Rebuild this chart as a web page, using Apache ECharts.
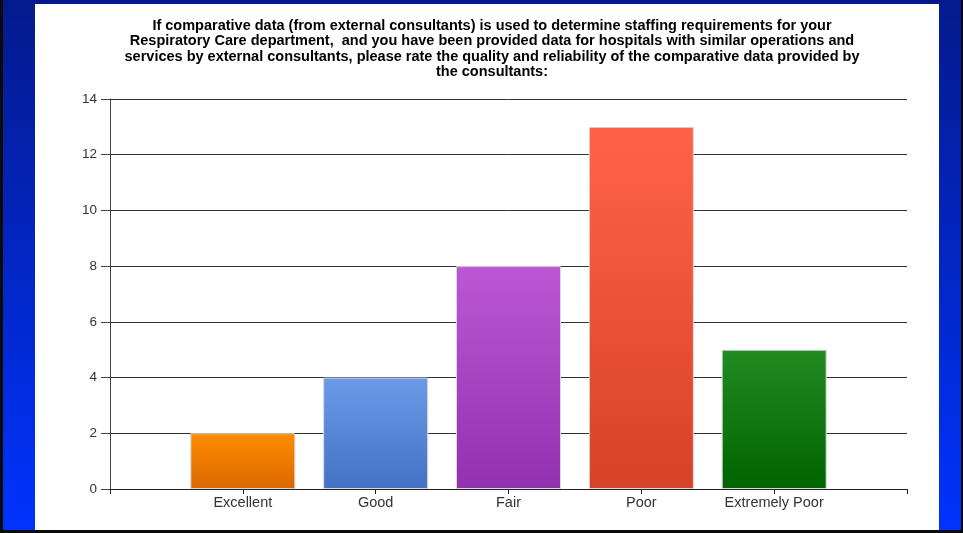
<!DOCTYPE html>
<html>
<head>
<meta charset="utf-8">
<script src="https://cdn.jsdelivr.net/npm/echarts@6/dist/echarts.min.js"></script>
<style>
  html, body { margin: 0; padding: 0; background: #000; }
  #chart { width: 963px; height: 533px; }
</style>
</head>
<body>
<div id="chart"></div>
<script>
// Survey question shown as the chart heading
const titleLines = [
  'If comparative data (from external consultants) is used to determine staffing requirements for your',
  'Respiratory Care department,  and you have been provided data for hospitals with similar operations and',
  'services by external consultants, please rate the quality and reliability of the comparative data provided by',
  'the consultants:'
];

// Rating categories and number of responses
const categories = ['Excellent', 'Good', 'Fair', 'Poor', 'Extremely Poor'];
const responses = [2, 4, 8, 13, 5];

// Y axis ticks
const yMin = 0;
const yMax = 14;
const yStep = 2;

// Top / bottom gradient colours for each bar
const barTopColors = ['#ff8c00', '#6a9ae8', '#bc56d4', '#ff6347', '#228b22'];
const barBottomColors = ['#d96800', '#4472c4', '#9431b0', '#d64226', '#006400'];

const FONT = '"Liberation Sans", Arial, sans-serif';

// Category axis padded with an empty slot at each end so the bars sit on inner ticks
const axisCats = [''].concat(categories, ['']);
const barData = [null].concat(responses.map(function (v, i) {
  return {
    value: v,
    itemStyle: {
      color: new echarts.graphic.LinearGradient(0, 0, 0, 1, [
        { offset: 0, color: barTopColors[i] },
        { offset: 1, color: barBottomColors[i] }
      ])
    }
  };
}), [null]);

const chart = echarts.init(document.getElementById('chart'), null, { renderer: 'canvas' });

chart.setOption({
  animation: false,
  backgroundColor: new echarts.graphic.LinearGradient(0, 0, 0, 1, [
    { offset: 0, color: '#041a8c' },
    { offset: 1, color: '#0033ff' }
  ]),
  graphic: [
    // white slide panel
    { type: 'rect', z: -10, shape: { x: 35, y: 4, width: 904, height: 526 }, style: { fill: '#ffffff' } },
    // dark frame on left, right and bottom edges
    { type: 'rect', z: -9, shape: { x: 0, y: 0, width: 3, height: 533 }, style: { fill: '#0a0a0a' } },
    { type: 'rect', z: -9, shape: { x: 961, y: 0, width: 2, height: 533 }, style: { fill: '#0a0a0a' } },
    { type: 'rect', z: -9, shape: { x: 0, y: 530, width: 963, height: 3 }, style: { fill: '#0a0a0a' } }
  ],
  title: {
    text: titleLines.join('\n'),
    left: 487,
    textAlign: 'center',
    top: 13,
    textStyle: {
      fontFamily: FONT,
      fontWeight: 'bold',
      fontSize: 14.5,
      lineHeight: 15.5,
      color: '#000'
    }
  },
  grid: {
    left: 110,
    right: 56,
    top: 99,
    bottom: 44,
    containLabel: false
  },
  xAxis: {
    type: 'category',
    data: axisCats,
    boundaryGap: false,
    axisLine: { lineStyle: { color: '#222', width: 1 } },
    axisTick: { show: true, length: 5, lineStyle: { color: '#222' } },
    axisLabel: {
      interval: 0,
      margin: 6,
      fontFamily: FONT,
      fontSize: 14.5,
      color: '#333'
    },
    splitLine: { show: false }
  },
  yAxis: {
    type: 'value',
    min: yMin,
    max: yMax,
    interval: yStep,
    axisLine: { show: true, lineStyle: { color: '#444', width: 1 } },
    axisTick: { show: true, length: 9, lineStyle: { color: '#444' } },
    axisLabel: {
      margin: 13,
      fontFamily: FONT,
      fontSize: 13.5,
      color: '#333'
    },
    splitLine: { show: true, lineStyle: { color: '#333', width: 1 } }
  },
  series: [{
    type: 'bar',
    data: barData,
    barWidth: 105,
    itemStyle: { borderColor: '#d8d8d8', borderWidth: 1 }
  }]
});
</script>
</body>
</html>
